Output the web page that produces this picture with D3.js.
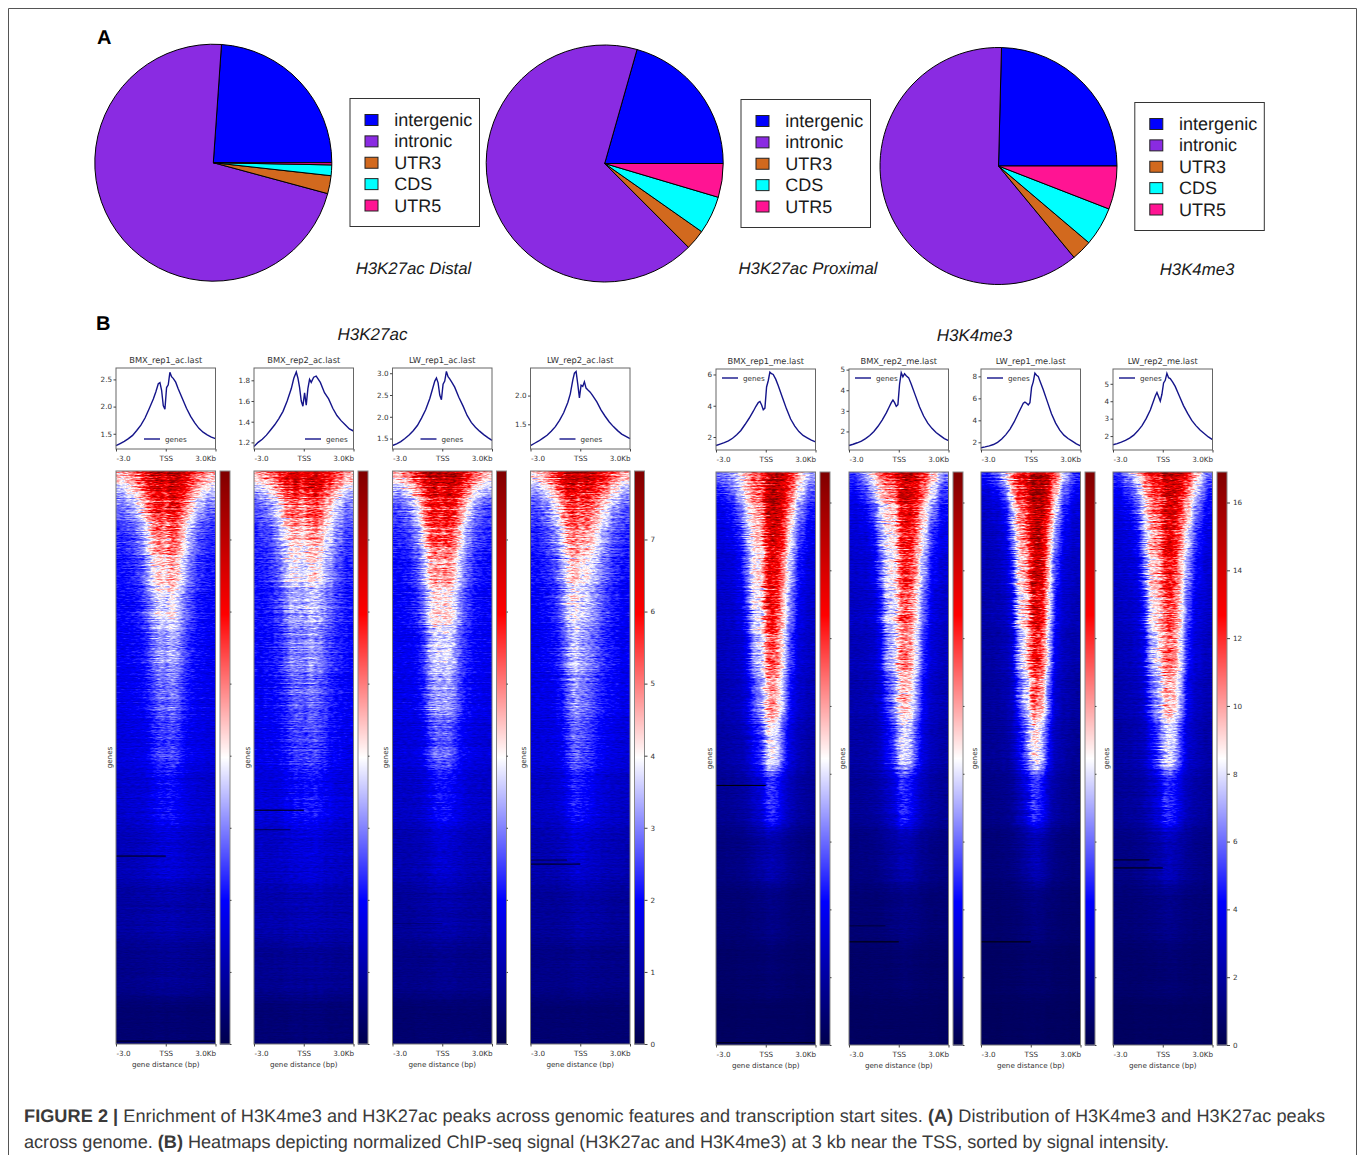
<!DOCTYPE html>
<html>
<head>
<meta charset="utf-8">
<script src="https://cdn.jsdelivr.net/npm/d3@7/dist/d3.min.js"></script>
<style>
  html, body { margin: 0; padding: 0; background: #fff; }
  svg { display: block; }
  text { font-family: "DejaVu Sans", sans-serif; fill: #333; text-rendering: geometricPrecision; }
  .sans, .sans text { font-family: "Liberation Sans", Arial, sans-serif; }
</style>
</head>
<body>
<svg id="figure" width="1358" height="1155"></svg>
<script>
// ---- panel A values, percent of peaks
const pieCategories = ['intergenic', 'intronic', 'UTR3', 'CDS', 'UTR5'];
const pieColors = ['#0000ff', '#8a2be2', '#d2691e', '#00ffff', '#ff1493'];
const pieDistal = [23.9, 71.9, 2.45, 1.45, 0.3];
const pieProximal = [20.6, 66.9, 2.75, 5.15, 4.6];
const pieMe3 = [24.6, 61.4, 2.8, 5.3, 5.9];

// ---- panel B profile curves: x in kb, y in mean signal
const profileKb = [-3, -2.75, -2.5, -2.25, -2, -1.75, -1.5, -1.25, -1, -0.75, -0.6, -0.45, -0.35, -0.25, -0.15, -0.05,
  0.05, 0.15, 0.25, 0.35, 0.45, 0.6, 0.75, 1, 1.25, 1.5, 1.75, 2, 2.25, 2.5, 2.75, 3];
const profBmx1Ac = [1.28, 1.32, 1.36, 1.41, 1.47, 1.56, 1.66, 1.79, 1.96, 2.14, 2.27, 2.42, 2.44, 2.3, 2.02, 1.95, 2.35, 2.4, 2.63, 2.55, 2.52, 2.45, 2.33, 2.15, 1.97, 1.82, 1.7, 1.6, 1.53, 1.48, 1.44, 1.41];
const profBmx2Ac = [1.16, 1.2, 1.23, 1.27, 1.32, 1.37, 1.43, 1.5, 1.6, 1.72, 1.82, 1.88, 1.82, 1.73, 1.6, 1.55, 1.68, 1.56, 1.72, 1.81, 1.78, 1.83, 1.84, 1.78, 1.68, 1.62, 1.53, 1.46, 1.41, 1.37, 1.33, 1.31];
const profLw1Ac = [1.34, 1.38, 1.43, 1.5, 1.58, 1.68, 1.8, 1.97, 2.16, 2.42, 2.62, 2.82, 2.89, 2.78, 2.5, 2.39, 2.75, 2.82, 3.04, 2.92, 2.87, 2.78, 2.68, 2.45, 2.25, 2.03, 1.87, 1.76, 1.67, 1.59, 1.52, 1.46];
const profLw2Ac = [1.13, 1.17, 1.21, 1.26, 1.31, 1.38, 1.46, 1.57, 1.7, 1.88, 2.03, 2.27, 2.39, 2.42, 2.2, 1.96, 2.18, 2.16, 2.24, 2.13, 2.1, 2.06, 2, 1.89, 1.75, 1.64, 1.54, 1.46, 1.39, 1.33, 1.29, 1.25];
const profBmx1Me = [1.46, 1.55, 1.64, 1.75, 1.92, 2.15, 2.42, 2.8, 3.2, 3.65, 3.95, 4.2, 4.27, 4.05, 3.75, 3.85, 5.2, 5.6, 6.15, 6.05, 6, 5.7, 5.3, 4.55, 3.8, 3.15, 2.7, 2.35, 2.1, 1.95, 1.8, 1.69];
const profBmx2Me = [1.32, 1.38, 1.45, 1.53, 1.65, 1.8, 2, 2.25, 2.55, 2.9, 3.15, 3.4, 3.52, 3.4, 3.22, 3.3, 4.3, 4.85, 4.65, 4.8, 4.7, 4.6, 4.3, 3.75, 3.2, 2.75, 2.4, 2.15, 1.95, 1.8, 1.65, 1.55];
const profLw1Me = [1.5, 1.58, 1.68, 1.8, 2, 2.3, 2.7, 3.2, 3.85, 4.65, 5.1, 5.55, 5.65, 5.55, 5.4, 5.6, 7, 7.5, 8.3, 8.1, 8, 7.4, 6.8, 5.7, 4.6, 3.75, 3.1, 2.65, 2.35, 2.1, 1.85, 1.68];
const profLw2Me = [1.5, 1.57, 1.65, 1.75, 1.88, 2.05, 2.3, 2.6, 3, 3.5, 3.9, 4.3, 4.5, 4.25, 4, 4.4, 5.05, 5.2, 5.6, 5.35, 5.3, 5.1, 4.85, 4.3, 3.75, 3.3, 2.9, 2.6, 2.35, 2.15, 1.95, 1.8];

// ---- panel B heatmaps, binned estimates
// one row per gene-rank bin, one value per distance bin
const rankEdges = [0, 2, 5, 9, 14, 20, 27, 35, 43, 52, 62, 72, 82, 92, 100];
const kbEdges = [-3, -2.4, -1.8, -1.3, -0.9, -0.5, -0.1, 0.1, 0.5, 0.9, 1.3, 1.8, 2.4, 3];

const heatBmx1Ac = [
  [4.6, 5, 5.6, 6.2, 6.8, 7, 6, 7.2, 7, 6.6, 6, 5.2, 4.6],
  [3.4, 4, 4.7, 5.5, 6.1, 6.3, 5.2, 6.5, 6.3, 5.8, 5, 4.1, 3.5],
  [2.7, 3.1, 3.8, 4.8, 5.6, 5.9, 4.7, 6.1, 5.8, 5.1, 4.1, 3.2, 2.7],
  [2.3, 2.5, 3, 3.9, 5, 5.3, 4.3, 5.6, 5.2, 4.3, 3.3, 2.6, 2.3],
  [2.1, 2.2, 2.5, 3.2, 4.1, 4.5, 3.8, 4.8, 4.4, 3.6, 2.8, 2.3, 2.1],
  [1.95, 2, 2.2, 2.7, 3.4, 3.9, 3.3, 4.1, 3.7, 3, 2.5, 2.1, 1.95],
  [1.85, 1.9, 2, 2.3, 2.9, 3.3, 2.8, 3.5, 3.2, 2.6, 2.2, 1.95, 1.85],
  [1.75, 1.8, 1.9, 2.1, 2.5, 2.9, 2.5, 3, 2.8, 2.3, 2, 1.85, 1.75],
  [1.6, 1.65, 1.7, 1.85, 2.2, 2.5, 2.2, 2.6, 2.4, 2, 1.8, 1.7, 1.6],
  [1.4, 1.45, 1.5, 1.6, 1.8, 2, 1.9, 2.1, 1.9, 1.7, 1.55, 1.45, 1.4],
  [1.2, 1.2, 1.25, 1.3, 1.4, 1.5, 1.5, 1.55, 1.5, 1.4, 1.3, 1.25, 1.2],
  [0.95, 0.95, 1, 1, 1.05, 1.1, 1.1, 1.15, 1.1, 1.05, 1, 1, 0.95],
  [0.7, 0.7, 0.72, 0.75, 0.75, 0.8, 0.8, 0.8, 0.8, 0.75, 0.75, 0.72, 0.7],
  [0.4, 0.4, 0.42, 0.42, 0.45, 0.45, 0.45, 0.45, 0.45, 0.45, 0.42, 0.42, 0.4]
];
const heatBmx2Ac = [
  [4.8, 5.2, 5.8, 6.4, 6.8, 6.8, 5.6, 6.8, 6.8, 6.6, 6.2, 5.5, 4.8],
  [3.3, 3.8, 4.6, 5.4, 5.8, 5.8, 4.8, 6, 6.1, 5.7, 5.1, 4.3, 3.5],
  [2.6, 3, 3.7, 4.6, 5.1, 5.1, 4.2, 5.3, 5.4, 5, 4.3, 3.4, 2.8],
  [2.3, 2.5, 3.1, 3.9, 4.5, 4.5, 3.8, 4.7, 4.8, 4.4, 3.7, 2.9, 2.4],
  [2.15, 2.3, 2.7, 3.4, 3.9, 3.9, 3.4, 4.1, 4.2, 3.8, 3.2, 2.6, 2.2],
  [2.05, 2.15, 2.45, 2.95, 3.4, 3.4, 3, 3.6, 3.6, 3.3, 2.8, 2.4, 2.1],
  [1.95, 2.05, 2.2, 2.6, 3, 3, 2.7, 3.2, 3.2, 2.9, 2.5, 2.2, 2],
  [1.85, 1.95, 2.05, 2.35, 2.7, 2.8, 2.5, 2.9, 2.9, 2.6, 2.3, 2.05, 1.9],
  [1.75, 1.8, 1.9, 2.1, 2.4, 2.5, 2.3, 2.6, 2.6, 2.4, 2.1, 1.9, 1.75],
  [1.55, 1.55, 1.6, 1.8, 1.95, 2, 1.95, 2.1, 2.1, 1.95, 1.8, 1.6, 1.55],
  [1.3, 1.3, 1.35, 1.4, 1.5, 1.55, 1.55, 1.6, 1.6, 1.5, 1.4, 1.35, 1.3],
  [1.05, 1.05, 1.05, 1.1, 1.15, 1.2, 1.2, 1.2, 1.2, 1.15, 1.1, 1.05, 1.05],
  [0.75, 0.75, 0.75, 0.8, 0.8, 0.85, 0.85, 0.85, 0.85, 0.85, 0.8, 0.75, 0.75],
  [0.45, 0.45, 0.45, 0.45, 0.5, 0.5, 0.5, 0.5, 0.5, 0.5, 0.45, 0.45, 0.45]
];
const heatLw1Ac = [
  [4.6, 5.2, 6, 6.7, 7.2, 7.2, 6.5, 7.3, 7.2, 6.8, 6.1, 5.3, 4.6],
  [3.2, 3.8, 4.8, 5.8, 6.5, 6.5, 5.8, 6.7, 6.5, 5.9, 5, 3.9, 3.3],
  [2.5, 2.8, 3.6, 4.9, 6, 6, 5.3, 6.2, 5.9, 5, 3.9, 2.9, 2.5],
  [2.2, 2.4, 2.9, 4, 5.3, 5.5, 4.8, 5.6, 5.2, 4.2, 3.1, 2.5, 2.2],
  [2, 2.1, 2.5, 3.3, 4.5, 4.8, 4.3, 4.9, 4.5, 3.5, 2.7, 2.2, 2],
  [1.9, 2, 2.2, 2.8, 3.9, 4.3, 3.8, 4.3, 3.9, 3, 2.4, 2, 1.9],
  [1.8, 1.85, 2, 2.4, 3.4, 3.8, 3.4, 3.8, 3.4, 2.6, 2.2, 1.9, 1.8],
  [1.7, 1.75, 1.85, 2.15, 2.9, 3.3, 3, 3.3, 3, 2.4, 2, 1.8, 1.7],
  [1.55, 1.6, 1.65, 1.85, 2.4, 2.8, 2.6, 2.8, 2.5, 2, 1.8, 1.65, 1.55],
  [1.35, 1.35, 1.4, 1.55, 1.8, 2.1, 2.1, 2.1, 1.9, 1.7, 1.5, 1.4, 1.35],
  [1.1, 1.1, 1.15, 1.2, 1.35, 1.5, 1.5, 1.5, 1.4, 1.3, 1.2, 1.15, 1.1],
  [0.85, 0.85, 0.9, 0.95, 1, 1.05, 1.05, 1.05, 1.05, 1, 0.95, 0.9, 0.85],
  [0.65, 0.65, 0.65, 0.7, 0.7, 0.75, 0.75, 0.75, 0.75, 0.7, 0.7, 0.65, 0.65],
  [0.38, 0.38, 0.4, 0.4, 0.42, 0.42, 0.42, 0.42, 0.42, 0.42, 0.4, 0.4, 0.38]
];
const heatLw2Ac = [
  [4.4, 5, 5.8, 6.6, 7, 7, 6.5, 7, 6.8, 6.5, 6, 5.3, 4.6],
  [3.1, 3.7, 4.6, 5.6, 6.2, 6.3, 5.6, 6.2, 5.9, 5.5, 4.9, 4.1, 3.3],
  [2.5, 2.9, 3.7, 4.7, 5.5, 5.7, 4.9, 5.5, 5.2, 4.6, 3.9, 3.1, 2.6],
  [2.2, 2.5, 3, 3.9, 4.9, 5.2, 4.4, 4.9, 4.5, 3.9, 3.2, 2.6, 2.3],
  [2.05, 2.2, 2.6, 3.3, 4.2, 4.6, 3.9, 4.2, 3.8, 3.3, 2.8, 2.3, 2.05],
  [1.9, 2, 2.25, 2.8, 3.7, 4.1, 3.5, 3.7, 3.3, 2.9, 2.5, 2.15, 1.9],
  [1.8, 1.9, 2.05, 2.4, 3.2, 3.7, 3.2, 3.2, 2.9, 2.6, 2.25, 2, 1.8],
  [1.7, 1.75, 1.85, 2.15, 2.75, 3.3, 2.9, 2.9, 2.6, 2.3, 2.05, 1.9, 1.7],
  [1.55, 1.6, 1.65, 1.85, 2.35, 2.85, 2.6, 2.5, 2.3, 2, 1.8, 1.65, 1.55],
  [1.35, 1.35, 1.4, 1.55, 1.85, 2.2, 2.1, 2, 1.85, 1.65, 1.5, 1.4, 1.35],
  [1.1, 1.1, 1.15, 1.25, 1.35, 1.55, 1.5, 1.45, 1.35, 1.3, 1.2, 1.15, 1.1],
  [0.85, 0.85, 0.85, 0.9, 0.95, 1.05, 1.05, 1.05, 1, 1, 0.95, 0.85, 0.85],
  [0.65, 0.65, 0.65, 0.65, 0.7, 0.75, 0.75, 0.75, 0.7, 0.7, 0.65, 0.65, 0.65],
  [0.4, 0.4, 0.4, 0.4, 0.42, 0.42, 0.45, 0.45, 0.42, 0.42, 0.4, 0.4, 0.4]
];
const heatBmx1Me = [
  [6, 7, 8.8, 10.5, 12, 12, 14, 15.5, 15.5, 14.5, 12.5, 9.5, 7],
  [4.5, 5.5, 7.2, 9.5, 10.8, 10.8, 13.5, 15, 15, 14, 11.2, 8, 5.5],
  [3.8, 4.3, 5.8, 8, 9.8, 9.8, 13, 14.5, 14.5, 12.8, 9.5, 6.2, 4.4],
  [3.4, 3.7, 4.6, 7, 9.3, 9.3, 12.5, 14, 14, 11.8, 8.2, 5, 3.8],
  [3.1, 3.3, 4, 6, 8.8, 8.8, 12, 13.5, 13, 10.2, 7, 4.2, 3.3],
  [2.9, 3, 3.5, 5, 8.2, 8.2, 11.5, 13, 12, 9.2, 6, 3.7, 3],
  [2.6, 2.8, 3.1, 4.1, 7.2, 7.8, 10.5, 12, 11, 8.2, 5, 3.3, 2.8],
  [2.3, 2.5, 2.8, 3.5, 5.5, 6.5, 9, 10.5, 9.6, 7, 4.2, 2.9, 2.5],
  [2.05, 2.2, 2.4, 3, 4.2, 5, 7.2, 8.6, 7.8, 5.2, 3.4, 2.5, 2.15],
  [1.65, 1.75, 1.9, 2.2, 2.8, 3.2, 4.4, 5.2, 4.6, 3.4, 2.5, 2, 1.75],
  [1.2, 1.25, 1.35, 1.5, 1.8, 2, 2.2, 2.4, 2.2, 1.9, 1.6, 1.35, 1.2],
  [0.9, 0.9, 0.95, 1, 1.15, 1.2, 1.3, 1.4, 1.3, 1.2, 1, 0.95, 0.9],
  [0.65, 0.65, 0.7, 0.7, 0.75, 0.8, 0.85, 0.9, 0.85, 0.8, 0.7, 0.65, 0.65],
  [0.45, 0.45, 0.5, 0.5, 0.5, 0.55, 0.55, 0.55, 0.55, 0.5, 0.5, 0.5, 0.45]
];
const heatBmx2Me = [
  [5, 6.5, 8.8, 10.8, 12, 12, 13.5, 14.5, 14.5, 13.5, 12, 9.5, 6.5],
  [4, 5, 7, 9.3, 10.3, 10.3, 13, 14, 14, 13, 10.8, 7.8, 5],
  [3.5, 3.9, 5.3, 8, 9.3, 9.3, 12, 13.5, 13.5, 11.8, 9.2, 6, 4.2],
  [3.2, 3.4, 4.2, 6.8, 8.8, 8.8, 11.5, 13, 13, 10.8, 8, 4.8, 3.7],
  [3, 3.1, 3.7, 5.6, 8.4, 8.4, 11, 12.5, 12.2, 9.8, 6.7, 4.1, 3.3],
  [2.8, 2.9, 3.2, 4.6, 7.8, 8.1, 10.5, 11.8, 11.2, 8.8, 5.7, 3.6, 3],
  [2.5, 2.6, 2.9, 3.9, 6.6, 7.4, 9.8, 10.8, 10.2, 8, 4.7, 3.2, 2.7],
  [2.25, 2.4, 2.6, 3.2, 5.1, 6.2, 8.7, 9.6, 9, 6.7, 3.9, 2.8, 2.4],
  [2.05, 2.15, 2.3, 2.8, 3.9, 4.9, 7.2, 8.1, 7.4, 5.1, 3.3, 2.5, 2.15],
  [1.65, 1.75, 1.9, 2.2, 2.7, 3.2, 4.4, 4.9, 4.4, 3.3, 2.5, 2, 1.75],
  [1.2, 1.25, 1.35, 1.5, 1.8, 2, 2.3, 2.4, 2.3, 1.9, 1.6, 1.35, 1.2],
  [0.9, 0.9, 0.95, 1, 1.15, 1.25, 1.35, 1.4, 1.35, 1.25, 1.05, 0.95, 0.9],
  [0.65, 0.65, 0.7, 0.7, 0.75, 0.8, 0.85, 0.9, 0.85, 0.8, 0.7, 0.65, 0.65],
  [0.45, 0.45, 0.5, 0.5, 0.5, 0.55, 0.55, 0.55, 0.55, 0.5, 0.5, 0.5, 0.45]
];
const heatLw1Me = [
  [4.5, 5.5, 8, 11, 13, 13.5, 14.5, 15.5, 15.5, 14, 11.5, 7.5, 5],
  [3.3, 3.9, 5.5, 9.2, 12, 12.5, 14.5, 15.5, 15.5, 13, 9.2, 5.5, 3.9],
  [2.9, 3.2, 4.2, 7.6, 10.8, 11.5, 14, 15, 15, 12, 7.6, 4.4, 3.3],
  [2.6, 2.8, 3.5, 6, 9.8, 10.5, 13.5, 14.8, 14.5, 10.2, 6.2, 3.7, 3],
  [2.4, 2.6, 3.1, 4.7, 9, 9.8, 13, 14.5, 14, 9.2, 5, 3.2, 2.7],
  [2.2, 2.4, 2.7, 3.8, 8.4, 9.2, 12.5, 14, 13, 8.4, 4.2, 2.9, 2.5],
  [2, 2.15, 2.45, 3.2, 7.2, 8.6, 11.5, 13, 11.8, 7.4, 3.6, 2.6, 2.25],
  [1.8, 1.95, 2.2, 2.85, 5.4, 7.4, 10, 11.4, 9.8, 5.8, 3, 2.3, 2],
  [1.65, 1.75, 1.95, 2.45, 3.8, 5.6, 7.8, 9, 7.5, 4.2, 2.6, 2.05, 1.75],
  [1.35, 1.4, 1.55, 1.8, 2.5, 3.4, 4.6, 5.2, 4.4, 2.8, 2.05, 1.65, 1.4],
  [1, 1, 1.1, 1.25, 1.5, 1.9, 2.3, 2.5, 2.2, 1.7, 1.3, 1.1, 1],
  [0.75, 0.75, 0.8, 0.85, 0.95, 1.1, 1.2, 1.3, 1.2, 1, 0.9, 0.8, 0.75],
  [0.55, 0.55, 0.6, 0.6, 0.65, 0.7, 0.75, 0.75, 0.75, 0.7, 0.6, 0.6, 0.55],
  [0.4, 0.4, 0.45, 0.45, 0.45, 0.5, 0.5, 0.5, 0.5, 0.45, 0.45, 0.45, 0.4]
];
const heatLw2Me = [
  [5, 6.5, 8.8, 11, 13, 13, 14, 15, 15, 14, 12.5, 9.5, 6],
  [4, 4.8, 6.8, 9.5, 11.6, 12, 13.5, 14.5, 14.5, 13, 10.8, 7.5, 4.8],
  [3.5, 3.9, 5.1, 8.2, 10.6, 11, 13, 14, 13.8, 12, 9.3, 5.9, 4.1],
  [3.2, 3.4, 4.2, 7, 9.8, 10.2, 12.2, 13.5, 13, 10.8, 7.8, 4.8, 3.6],
  [2.9, 3.1, 3.6, 5.7, 9.2, 9.7, 11.5, 12.8, 12.2, 9.8, 6.5, 4.1, 3.2],
  [2.7, 2.85, 3.2, 4.7, 8.6, 9.2, 10.8, 12, 11.4, 9, 5.4, 3.6, 3],
  [2.4, 2.6, 2.9, 3.9, 7, 8.2, 10, 11, 10.5, 8.2, 4.5, 3.2, 2.7],
  [2.2, 2.4, 2.6, 3.2, 5.5, 6.7, 8.7, 10, 9.3, 7, 3.8, 2.8, 2.4],
  [2, 2.1, 2.3, 2.75, 4, 5, 7, 8.1, 7.6, 5.2, 3.2, 2.5, 2.1],
  [1.7, 1.8, 1.95, 2.2, 2.7, 3.3, 4.4, 5, 4.6, 3.4, 2.5, 2.05, 1.8],
  [1.3, 1.35, 1.45, 1.6, 1.9, 2.1, 2.5, 2.7, 2.5, 2.1, 1.7, 1.45, 1.3],
  [1, 1, 1.05, 1.1, 1.2, 1.35, 1.45, 1.5, 1.45, 1.3, 1.15, 1.05, 1],
  [0.7, 0.7, 0.75, 0.8, 0.8, 0.85, 0.9, 0.95, 0.9, 0.85, 0.8, 0.75, 0.7],
  [0.45, 0.45, 0.5, 0.5, 0.5, 0.55, 0.55, 0.55, 0.55, 0.5, 0.5, 0.5, 0.45]
];

// rows with no signal: [gene rank %, last kb, opacity]
const gapsBmx1Ac = [[67.2, 0, 1], [99.5, 3, 0.8]];
const gapsBmx2Ac = [[59.2, 0, 1], [62.6, -0.8, 0.6]];
const gapsLw1Ac = [[79, 0, 0.25]];
const gapsLw2Ac = [[67.9, -0.8, 0.6], [68.6, 0, 1]];
const gapsBmx1Me = [[54.7, 0, 1], [99.6, 3, 0.8]];
const gapsBmx2Me = [[79.2, -0.8, 0.5], [82, 0, 1]];
const gapsLw1Me = [[82, 0, 1]];
const gapsLw2Me = [[67.7, -0.8, 0.9], [69.1, 0, 1]];

const acColorTicks = [0, 1, 2, 3, 4, 5, 6, 7];
const meColorTicks = [0, 2, 4, 6, 8, 10, 12, 14, 16];
const acColorMax = 7.95;
const meColorMax = 16.9;

const panelsInfo = [
  {name: 'BMX_rep1_ac.last', left: 116, top: 368, prof: profBmx1Ac, yDomain: [1.22, 2.71], yTicks: [1.5, 2, 2.5], heat: heatBmx1Ac, gaps: gapsBmx1Ac, legendX: 28, group: 'ac'},
  {name: 'BMX_rep2_ac.last', left: 254, top: 368, prof: profBmx2Ac, yDomain: [1.136, 1.919], yTicks: [1.2, 1.4, 1.6, 1.8], heat: heatBmx2Ac, gaps: gapsBmx2Ac, legendX: 51, group: 'ac'},
  {name: 'LW_rep1_ac.last', left: 392.5, top: 368, prof: profLw1Ac, yDomain: [1.26, 3.12], yTicks: [1.5, 2, 2.5, 3], heat: heatLw1Ac, gaps: gapsLw1Ac, legendX: 28, group: 'ac'},
  {name: 'LW_rep2_ac.last', left: 530.5, top: 368, prof: profLw2Ac, yDomain: [1.07, 2.48], yTicks: [1.5, 2], heat: heatLw2Ac, gaps: gapsLw2Ac, legendX: 29, group: 'ac', last: true},
  {name: 'BMX_rep1_me.last', left: 716, top: 369, prof: profBmx1Me, yDomain: [1.17, 6.35], yTicks: [2, 4, 6], heat: heatBmx1Me, gaps: gapsBmx1Me, legendX: 6, group: 'me'},
  {name: 'BMX_rep2_me.last', left: 849, top: 369, prof: profBmx2Me, yDomain: [1.1, 5.03], yTicks: [2, 3, 4, 5], heat: heatBmx2Me, gaps: gapsBmx2Me, legendX: 6, group: 'me'},
  {name: 'LW_rep1_me.last', left: 981, top: 369, prof: profLw1Me, yDomain: [1.3, 8.67], yTicks: [2, 4, 6, 8], heat: heatLw1Me, gaps: gapsLw1Me, legendX: 6, group: 'me'},
  {name: 'LW_rep2_me.last', left: 1113, top: 369, prof: profLw2Me, yDomain: [1.2, 5.85], yTicks: [2, 3, 4, 5], heat: heatLw2Me, gaps: gapsLw2Me, legendX: 6, group: 'me', last: true}
];

const svg = d3.select('#figure');

// frame of the figure box, open at the bottom
svg.append('path')
   .attr('d', 'M8.5,1155V8.5H1356.5V1155')
   .attr('fill', 'none')
   .attr('stroke', '#555')
   .attr('stroke-width', 1);

const defs = svg.append('defs');

// heatmap cells are painted as grey levels (value / colour max). The filter blends the bins,
// adds a row-wise grain that only imitates the read noise of the original, then maps grey
// to the colour bar stops. The values themselves are only the binned estimates above.
function addHeatFilter(id, seed) {
  const f = defs.append('filter')
                .attr('id', id)
                .attr('x', '-0.1').attr('y', '-0.05')
                .attr('width', '1.2').attr('height', '1.1')
                .attr('color-interpolation-filters', 'sRGB');
  f.append('feGaussianBlur')
   .attr('in', 'SourceGraphic')
   .attr('stdDeviation', '2.2 6')
   .attr('result', 'soft');
  f.append('feComponentTransfer').attr('in', 'soft').attr('result', 'solid')
   .append('feFuncA').attr('type', 'linear').attr('slope', 200);

  f.append('feTurbulence')
   .attr('type', 'fractalNoise')
   .attr('baseFrequency', '0.008 0.7')
   .attr('numOctaves', 2)
   .attr('seed', seed)
   .attr('result', 'rowNoise');
  f.append('feColorMatrix').attr('in', 'rowNoise')
   .attr('values', '1 0 0 0 0  1 0 0 0 0  1 0 0 0 0  0 0 0 0 1')
   .attr('result', 'rowGrey');
  f.append('feTurbulence')
   .attr('type', 'fractalNoise')
   .attr('baseFrequency', '0.2 0.8')
   .attr('numOctaves', 2)
   .attr('seed', seed + 20)
   .attr('result', 'dotNoise');
  f.append('feColorMatrix').attr('in', 'dotNoise')
   .attr('values', '0 1 0 0 0  0 1 0 0 0  0 1 0 0 0  0 0 0 0 1')
   .attr('result', 'dotGrey');
  f.append('feComposite').attr('in', 'rowGrey').attr('in2', 'dotGrey')
   .attr('operator', 'arithmetic')
   .attr('k1', 0).attr('k2', 0.4).attr('k3', 0.6).attr('k4', 0)
   .attr('result', 'grain');

  f.append('feDisplacementMap')
   .attr('in', 'solid')
   .attr('in2', 'rowNoise')
   .attr('scale', 7)
   .attr('xChannelSelector', 'R')
   .attr('yChannelSelector', 'G')
   .attr('result', 'shifted');
  f.append('feComposite').attr('in', 'shifted').attr('in2', 'grain')
   .attr('operator', 'arithmetic')
   .attr('k1', 1).attr('k2', 0.5).attr('k3', 0).attr('k4', 0)
   .attr('result', 'noisy');
  f.append('feGaussianBlur')
   .attr('in', 'noisy')
   .attr('stdDeviation', '0.4 0.35')
   .attr('result', 'smooth');

  const table = f.append('feComponentTransfer').attr('in', 'smooth');
  table.append('feFuncR').attr('type', 'table').attr('tableValues', '0 0 1 1 0.5');
  table.append('feFuncG').attr('type', 'table').attr('tableValues', '0 0 1 0 0');
  table.append('feFuncB').attr('type', 'table').attr('tableValues', '0.3 1 1 0 0');
  table.append('feFuncA').attr('type', 'linear').attr('slope', 0).attr('intercept', 1);
}

// ---- panel A
function drawPie(values, cx, cy, boxX, boxY, title, titleX, titleY) {
  const pie = d3.pie()
                .sort(null)
                .startAngle(Math.PI / 2)
                .endAngle(Math.PI / 2 - 2 * Math.PI);
  const arc = d3.arc().innerRadius(0).outerRadius(118.5);
  svg.append('g')
     .attr('transform', 'translate(' + cx + ',' + cy + ')')
     .selectAll('path')
     .data(pie(values))
     .enter()
     .append('path')
     .attr('d', arc)
     .attr('fill', (d, i) => pieColors[i])
     .attr('stroke', '#000')
     .attr('stroke-width', 1)
     .attr('stroke-linejoin', 'round');

  const legend = svg.append('g')
                    .attr('class', 'sans')
                    .attr('transform', 'translate(' + boxX + ',' + boxY + ')');
  legend.append('rect')
        .attr('x', 0.5).attr('y', 0.5)
        .attr('width', 129.5).attr('height', 128)
        .attr('fill', '#fff')
        .attr('stroke', '#333');
  const legendY = d3.scalePoint().domain(pieCategories).range([22, 107.5]);
  legend.selectAll('rect.swatch')
        .data(pieCategories)
        .enter()
        .append('rect')
        .attr('class', 'swatch')
        .attr('x', 15.5)
        .attr('y', d => legendY(d) - 5.5)
        .attr('width', 13)
        .attr('height', 11)
        .attr('fill', (d, i) => pieColors[i])
        .attr('stroke', '#222');
  legend.selectAll('text')
        .data(pieCategories)
        .enter()
        .append('text')
        .attr('x', 44.8)
        .attr('y', d => legendY(d) + 6)
        .attr('font-size', 18)
        .style('fill', '#1a1a1a')
        .text(d => d);

  svg.append('text')
     .attr('class', 'sans')
     .attr('x', titleX)
     .attr('y', titleY)
     .attr('text-anchor', 'middle')
     .attr('font-size', 16.8)
     .attr('font-style', 'italic')
     .style('fill', '#1a1a1a')
     .text(title);
}

drawPie(pieDistal, 213.3, 162.7, 349.5, 98, 'H3K27ac Distal', 413.5, 274);
drawPie(pieProximal, 604.7, 163.5, 740.5, 99, 'H3K27ac Proximal', 808, 274);
drawPie(pieMe3, 998.5, 166, 1134.3, 102, 'H3K4me3', 1197, 275);

svg.append('g').attr('class', 'sans')
   .selectAll('text')
   .data([['A', 97, 44], ['B', 96, 330]])
   .enter()
   .append('text')
   .attr('x', d => d[1])
   .attr('y', d => d[2])
   .attr('font-size', 20)
   .attr('font-weight', 'bold')
   .style('fill', '#000')
   .text(d => d[0]);

svg.append('g').attr('class', 'sans')
   .selectAll('text')
   .data([['H3K27ac', 372.5, 340], ['H3K4me3', 974.5, 341]])
   .enter()
   .append('text')
   .attr('x', d => d[1])
   .attr('y', d => d[2])
   .attr('text-anchor', 'middle')
   .attr('font-size', 17)
   .attr('font-style', 'italic')
   .style('fill', '#1a1a1a')
   .text(d => d[0]);

// ---- panel B
const panelWidth = 99.5,
      profileHeight = 81,
      heatHeight = 573,
      barWidth = 10;

function labelXTicks(axisG) {
  axisG.selectAll('.tick text')
       .attr('text-anchor', (d, i) => i == 0 ? 'start' : (i == 2 ? 'end' : 'middle'))
       .attr('font-size', 7.2)
       .attr('font-family', 'DejaVu Sans')
       .attr('y', 7)
       .style('fill', '#333');
}

panelsInfo.forEach((p, index) => {
  const colorMax = p.group == 'ac' ? acColorMax : meColorMax;
  const color = d3.scaleLinear()
                  .domain([0, colorMax * 0.25, colorMax * 0.5, colorMax * 0.75, colorMax])
                  .range(['#00004d', '#0000ff', '#ffffff', '#ff0000', '#800000']);
  const grey = d3.scaleLinear()
                 .domain([0, colorMax])
                 .range(['#000000', '#ffffff']);
  const xKb = d3.scaleLinear().domain([-3, 3]).range([0, panelWidth]);

  const g = svg.append('g').attr('transform', 'translate(' + p.left + ',' + p.top + ')');

  // profile plot
  const yProf = d3.scaleLinear().domain(p.yDomain).range([profileHeight, 0]);
  const line = d3.line()
                 .x((d, i) => xKb(profileKb[i]))
                 .y(d => yProf(d));
  g.append('path')
   .datum(p.prof)
   .attr('d', line)
   .attr('fill', 'none')
   .attr('stroke', '#14148a')
   .attr('stroke-width', 1.4);

  g.append('rect')
   .attr('width', panelWidth).attr('height', profileHeight)
   .attr('fill', 'none')
   .attr('stroke', '#666');

  const profileYAxis = d3.axisLeft(yProf)
                         .tickValues(p.yTicks)
                         .tickSize(2.5)
                         .tickFormat(d3.format(p.yTicks.some(t => t % 1) ? '.1f' : 'd'));
  g.append('g')
   .call(profileYAxis)
   .call(a => a.select('.domain').remove())
   .call(a => a.selectAll('line').attr('stroke', '#444'))
   .call(a => a.selectAll('text').attr('font-size', 7.2).attr('font-family', 'DejaVu Sans').attr('x', -4).style('fill', '#333'));

  const profileXAxis = d3.axisBottom(xKb)
                         .tickValues([-3, 0, 3])
                         .tickSize(2.5)
                         .tickFormat((d, i) => ['-3.0', 'TSS', '3.0Kb'][i]);
  g.append('g')
   .attr('transform', 'translate(0,' + profileHeight + ')')
   .call(profileXAxis)
   .call(a => a.select('.domain').remove())
   .call(a => a.selectAll('line').attr('stroke', '#444'))
   .call(labelXTicks);

  g.append('text')
   .attr('x', panelWidth / 2)
   .attr('y', -5.5)
   .attr('text-anchor', 'middle')
   .attr('font-size', 8.3)
   .text(p.name);

  const legendY = p.group == 'ac' ? 71 : 9;
  g.append('line')
   .attr('x1', p.legendX).attr('x2', p.legendX + 16)
   .attr('y1', legendY).attr('y2', legendY)
   .attr('stroke', '#14148a')
   .attr('stroke-width', 1.4);
  g.append('text')
   .attr('x', p.legendX + 21)
   .attr('y', legendY + 2.5)
   .attr('font-size', 7.2)
   .text('genes');

  // heatmap
  const heatTop = 103;
  const heat = g.append('g').attr('transform', 'translate(0,' + heatTop + ')');
  const yRank = d3.scaleLinear().domain([0, 100]).range([0, heatHeight]);

  const clipId = 'clip' + index;
  defs.append('clipPath').attr('id', clipId)
      .append('rect').attr('width', panelWidth).attr('height', heatHeight);
  const filterId = 'heatFilter' + index;
  addHeatFilter(filterId, index * 3 + 2);

  const cells = [];
  p.heat.forEach((row, r) => {
    row.forEach((value, c) => {
      cells.push({r: r, c: c, value: value});
    });
  });

  heat.append('g')
      .attr('clip-path', 'url(#' + clipId + ')')
      .append('g')
      .attr('filter', 'url(#' + filterId + ')')
      .selectAll('rect')
      .data(cells)
      .enter()
      .append('rect')
      .attr('x', d => xKb(kbEdges[d.c]))
      .attr('y', d => yRank(rankEdges[d.r]))
      .attr('width', d => xKb(kbEdges[d.c + 1]) - xKb(kbEdges[d.c]) + 0.5)
      .attr('height', d => yRank(rankEdges[d.r + 1]) - yRank(rankEdges[d.r]) + 0.5)
      .attr('fill', d => grey(d.value));

  heat.selectAll('line.gap')
      .data(p.gaps)
      .enter()
      .append('line')
      .attr('class', 'gap')
      .attr('x1', xKb(-3))
      .attr('x2', d => xKb(d[1]))
      .attr('y1', d => yRank(d[0]))
      .attr('y2', d => yRank(d[0]))
      .attr('stroke', '#000')
      .attr('stroke-opacity', d => d[2])
      .attr('stroke-width', 1);

  heat.append('rect')
      .attr('width', panelWidth).attr('height', heatHeight)
      .attr('fill', 'none')
      .attr('stroke', '#777');

  const heatXAxis = d3.axisBottom(xKb)
                      .tickValues([-3, 0, 3])
                      .tickSize(2.5)
                      .tickFormat((d, i) => ['-3.0', 'TSS', '3.0Kb'][i]);
  heat.append('g')
      .attr('transform', 'translate(0,' + heatHeight + ')')
      .call(heatXAxis)
      .call(a => a.select('.domain').remove())
      .call(a => a.selectAll('line').attr('stroke', '#444'))
      .call(labelXTicks);

  heat.append('text')
      .attr('x', panelWidth / 2)
      .attr('y', heatHeight + 23)
      .attr('text-anchor', 'middle')
      .attr('font-size', 7.2)
      .text('gene distance (bp)');

  heat.append('text')
      .attr('transform', 'translate(-4.5,' + (heatHeight / 2) + ') rotate(-90)')
      .attr('text-anchor', 'middle')
      .attr('font-size', 7.2)
      .text('genes');

  // colour bar
  const yColor = d3.scaleLinear().domain([0, colorMax]).range([heatHeight, 0]);
  const bar = heat.append('g').attr('transform', 'translate(' + (panelWidth + 4.5) + ',0)');
  bar.selectAll('rect')
     .data(d3.range(0, heatHeight))
     .enter()
     .append('rect')
     .attr('x', 0)
     .attr('y', d => d)
     .attr('width', barWidth)
     .attr('height', 1.5)
     .attr('fill', d => color(yColor.invert(d + 0.5)));
  bar.append('rect')
     .attr('width', barWidth).attr('height', heatHeight)
     .attr('fill', 'none')
     .attr('stroke', '#888');

  const colorAxis = d3.axisRight(yColor)
                      .tickValues(p.group == 'ac' ? acColorTicks : meColorTicks)
                      .tickSize(p.last ? 3 : 1.5)
                      .tickFormat(p.last ? d3.format('d') : '');
  bar.append('g')
     .attr('transform', 'translate(' + barWidth + ',0)')
     .call(colorAxis)
     .call(a => a.select('.domain').remove())
     .call(a => a.selectAll('line').attr('stroke', '#444'))
     .call(a => a.selectAll('text').attr('font-size', 7.2).attr('font-family', 'DejaVu Sans').attr('x', 6).style('fill', '#333'));
});

// ---- caption
const caption = svg.append('g')
                   .attr('class', 'sans')
                   .attr('font-size', 18.15);
const captionLines = [
  [['FIGURE 2 | ', true], ['Enrichment of H3K4me3 and H3K27ac peaks across genomic features and transcription start sites. ', false],
   ['(A) ', true], ['Distribution of H3K4me3 and H3K27ac peaks', false]],
  [['across genome. ', false], ['(B) ', true], ['Heatmaps depicting normalized ChIP-seq signal (H3K27ac and H3K4me3) at 3 kb near the TSS, sorted by signal intensity.', false]]
];
const captionWidths = [1301, 1145];
captionLines.forEach((parts, i) => {
  const t = caption.append('text')
                   .attr('x', 24)
                   .attr('y', 1122 + i * 26)
                   .attr('textLength', captionWidths[i])
                   .attr('lengthAdjust', 'spacing')
                   .style('white-space', 'pre');
  parts.forEach(part => {
    t.append('tspan')
     .attr('font-weight', part[1] ? 'bold' : 'normal')
     .style('fill', '#3a3a3a')
     .text(part[0]);
  });
});
</script>
</body>
</html>
